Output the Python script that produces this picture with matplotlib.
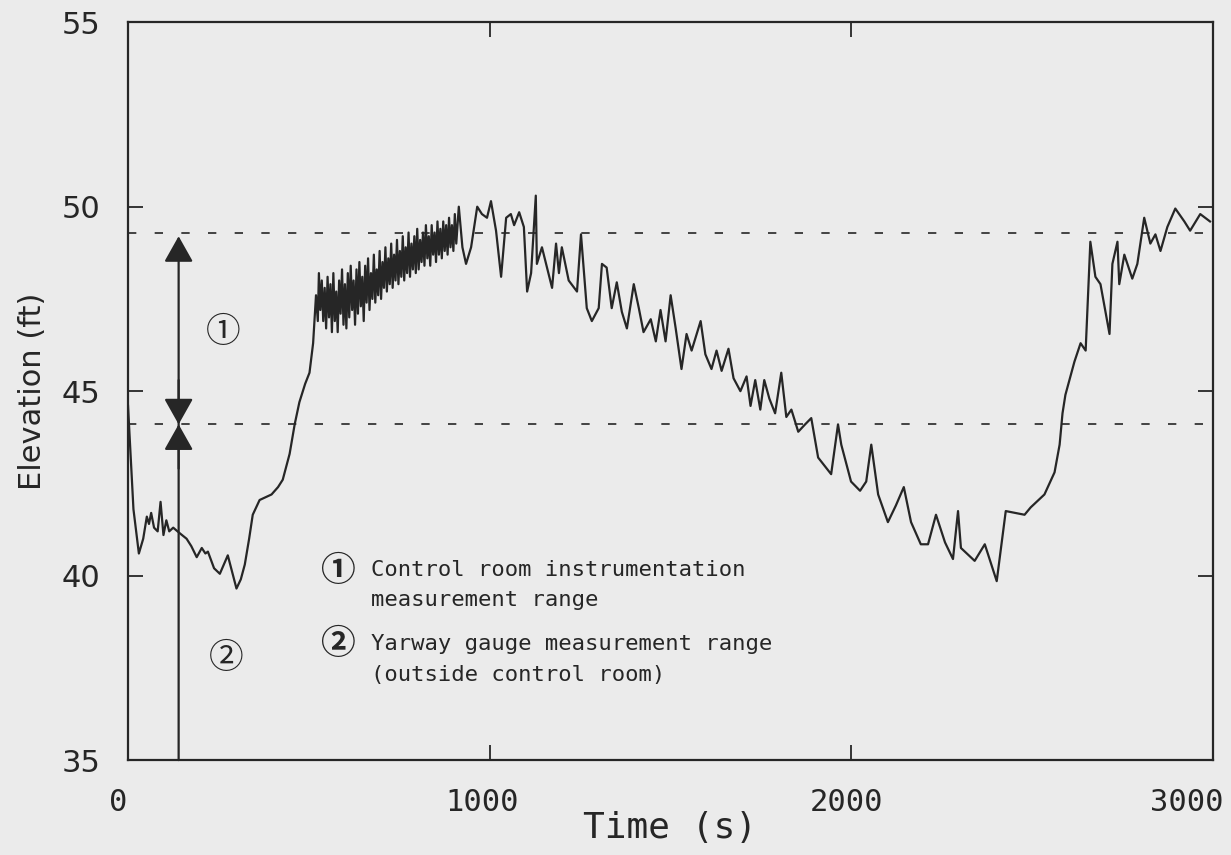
import matplotlib.pyplot as plt
from matplotlib.transforms import ScaledTranslation

# water level trace
time_s = [0, 6, 15, 30, 42, 52, 58, 64, 72, 82, 90, 98, 106, 114, 125, 143, 162, 175, 190, 204,
          214, 221, 238, 254, 265, 276, 288, 300, 312, 323, 335, 345, 364, 397, 415, 428, 447, 461, 474, 490,
          502, 512, 520, 525,
          528, 532, 536, 540, 544, 548, 552, 556, 560, 564,
          568, 572, 576, 580, 584, 588, 592, 596, 600, 604,
          608, 612, 616, 620, 624, 628, 632, 636, 640, 644,
          648, 652, 656, 660, 664, 668, 672, 676, 680, 684,
          688, 692, 696, 700, 704, 708, 712, 716, 720, 724,
          728, 732, 736, 740, 744, 748, 752, 756, 760, 764,
          768, 772, 776, 780, 784, 788, 792, 796, 800, 804,
          808, 812, 816, 820, 824, 828, 832, 836, 840, 844,
          848, 852, 856, 860, 864, 868, 872, 876, 880, 884,
          888, 892, 896, 900, 904, 908,
          915, 925, 935, 949, 966, 979, 993, 1004, 1018, 1032, 1046, 1059, 1068, 1082, 1095, 1104, 1115, 1128, 1131, 1145,
          1173, 1184, 1192, 1200, 1219, 1242, 1253, 1269, 1283, 1302, 1311, 1324, 1338, 1352, 1366, 1380, 1399,
          1413, 1426, 1446, 1460, 1473, 1487, 1501, 1515, 1531, 1545, 1559, 1573, 1584, 1597, 1614, 1628, 1642,
          1661, 1675, 1694, 1711, 1722, 1735, 1749, 1760, 1774, 1790, 1807, 1821, 1835, 1854, 1873, 1890, 1909,
          1945, 1964, 1973, 2000, 2025, 2042, 2056, 2075, 2102, 2124, 2146, 2166, 2193, 2213, 2235, 2260, 2282,
          2296, 2304, 2342, 2370, 2403, 2428, 2480, 2497, 2535, 2563, 2577, 2585, 2593, 2618, 2635, 2649, 2662,
          2676, 2690, 2715, 2723, 2737, 2742, 2756, 2778, 2792, 2811, 2828, 2842, 2856, 2875, 2897, 2922, 2938,
          2966, 2993]
elev_ft = [44.6, 43.5, 41.8, 40.6, 41.0, 41.6, 41.4, 41.7, 41.3, 41.2, 42.0, 41.1, 41.5, 41.2, 41.3, 41.15, 41.0, 40.8, 40.5, 40.75,
           40.6, 40.65, 40.2, 40.05, 40.3, 40.55, 40.1, 39.65, 39.9, 40.3, 41.0, 41.65, 42.05, 42.2, 42.4, 42.6, 43.3, 44.1, 44.7, 45.2,
           45.5, 46.3, 47.6, 46.9,
           48.2, 47.2, 48.0, 46.9, 47.8, 46.7, 48.1, 47.0, 47.9, 46.6,
           48.2, 46.9, 47.7, 46.6, 48.0, 47.1, 48.3, 46.8, 47.9, 46.7,
           48.2, 47.0, 48.4, 47.2, 48.0, 46.8, 48.3, 47.1, 48.5, 47.3,
           48.1, 46.9, 48.4, 47.4, 48.6, 47.2, 48.2, 47.5, 48.7, 47.4,
           48.3, 47.6, 48.8, 47.5, 48.5, 47.8, 48.9, 47.7, 48.6, 47.9,
           49.0, 47.8, 48.7, 48.0, 49.1, 47.9, 48.8, 48.1, 49.2, 48.0,
           48.9, 48.2, 49.3, 48.1, 49.0, 48.3, 49.2, 48.2, 49.4, 48.3,
           49.1, 48.5, 49.3, 48.4, 49.5, 48.6, 49.2, 48.4, 49.5, 48.7,
           49.3, 48.5, 49.6, 48.7, 49.4, 48.6, 49.6, 48.8, 49.5, 48.7,
           49.7, 48.9, 49.5, 48.8, 49.8, 49.0,
           50.0, 48.9, 48.45, 48.9, 50.0, 49.8, 49.7, 50.15, 49.35, 48.1, 49.7, 49.8, 49.5, 49.85, 49.45, 47.7, 48.2, 50.3, 48.45, 48.9,
           47.8, 49.0, 48.2, 48.9, 48.0, 47.7, 49.25, 47.25, 46.9, 47.25, 48.45, 48.35, 47.25, 47.95, 47.15, 46.7, 47.9,
           47.25, 46.6, 46.95, 46.35, 47.2, 46.35, 47.6, 46.7, 45.6, 46.55, 46.1, 46.55, 46.9, 46.0, 45.6, 46.1, 45.55,
           46.15, 45.35, 45.0, 45.4, 44.6, 45.3, 44.5, 45.3, 44.8, 44.4, 45.5, 44.3, 44.5, 43.9, 44.1, 44.27, 43.2,
           42.75, 44.1, 43.55, 42.55, 42.3, 42.55, 43.55, 42.2, 41.45, 41.9, 42.4, 41.45, 40.85, 40.85, 41.65, 40.9, 40.45,
           41.75, 40.75, 40.4, 40.85, 39.85, 41.75, 41.65, 41.85, 42.2, 42.8, 43.55, 44.4, 44.9, 45.8, 46.3, 46.1, 49.05,
           48.1, 47.9, 46.55, 48.45, 49.05, 47.9, 48.7, 48.05, 48.45, 49.7, 49.0, 49.25, 48.8, 49.45, 49.95, 49.6, 49.35,
           49.8, 49.6]

upper_limit = 49.3     # top of control room range
lower_limit = 44.1     # boundary between the two ranges
range_t = 140          # where the range arrow is drawn
x_ticks = [0, 1000, 2000, 3000]
y_ticks = [35, 40, 45, 50, 55]

ink = '#262626'
paper = '#ebebeb'

fig = plt.figure(figsize=(12.31, 8.55), dpi=100, facecolor=paper)
ax = fig.add_axes([0.104, 0.111, 0.881, 0.863])
ax.set_facecolor(paper)

ax.plot(time_s, elev_ft, color=ink, lw=1.6)
ax.axhline(upper_limit, color=ink, lw=1.2, ls=(0, (5, 11)))
ax.axhline(lower_limit, color=ink, lw=1.2, ls=(0, (5, 11)))

head = '-|>,head_length=0.8,head_width=0.45'
ax.annotate('', xy=(range_t, upper_limit - 0.1), xytext=(range_t, 35),
            arrowprops=dict(arrowstyle=head, mutation_scale=20, color=ink, lw=1.6, shrinkA=0, shrinkB=0))
ax.annotate('', xy=(range_t, lower_limit), xytext=(range_t, lower_limit + 1.2),
            arrowprops=dict(arrowstyle=head, mutation_scale=20, color=ink, lw=1.6, shrinkA=0, shrinkB=0))
ax.annotate('', xy=(range_t, lower_limit), xytext=(range_t, lower_limit - 1.2),
            arrowprops=dict(arrowstyle=head, mutation_scale=20, color=ink, lw=1.6, shrinkA=0, shrinkB=0))

circ = ['Noto Sans CJK JP', 'DejaVu Sans']
ax.text(262, 46.6, '①', fontsize=25, family=circ, color=ink, ha='center', va='center')
ax.text(272, 37.75, '②', fontsize=25, family=circ, color=ink, ha='center', va='center')

ax.text(579, 40.15, '①', fontsize=25, family=circ, fontweight='bold', color=ink, ha='center', va='center')
ax.text(579, 38.15, '②', fontsize=25, family=circ, fontweight='bold', color=ink, ha='center', va='center')
mono = 'DejaVu Sans Mono'
ax.text(672, 40.15, 'Control room instrumentation', fontsize=16, family=mono, color=ink, va='center')
ax.text(672, 39.35, 'measurement range', fontsize=16, family=mono, color=ink, va='center')
ax.text(672, 38.15, 'Yarway gauge measurement range', fontsize=16, family=mono, color=ink, va='center')
ax.text(672, 37.3, '(outside control room)', fontsize=16, family=mono, color=ink, va='center')

ax.set_xlim(0, 3000)
ax.set_ylim(35, 55)
ax.set_xticks(x_ticks)
ax.set_xticklabels([str(v) for v in x_ticks], family=mono, fontsize=22, color=ink)
ax.set_yticks(y_ticks)
ax.set_yticklabels([str(v) for v in y_ticks], family='DejaVu Sans', fontsize=22, color=ink)
ax.tick_params(direction='in', length=11, width=1.3, top=True, right=True, color=ink)
ax.tick_params(axis='x', pad=20)
ax.tick_params(axis='y', pad=20)
# the scanned labels sit a little left of their ticks
for lab, dx in zip(ax.get_xticklabels(), [-10, -7, -5, -26]):
    lab.set_transform(lab.get_transform() + ScaledTranslation(dx / 100, 0, fig.dpi_scale_trans))
for s in ax.spines.values():
    s.set_linewidth(1.6)
    s.set_color(ink)

ax.set_xlabel('Time (s)', family=mono, fontsize=26, color=ink, labelpad=-4)
ax.set_ylabel('Elevation (ft)', family='DejaVu Sans', fontsize=22, color=ink, labelpad=10)

plt.savefig('out.png', dpi=100, facecolor=paper)
